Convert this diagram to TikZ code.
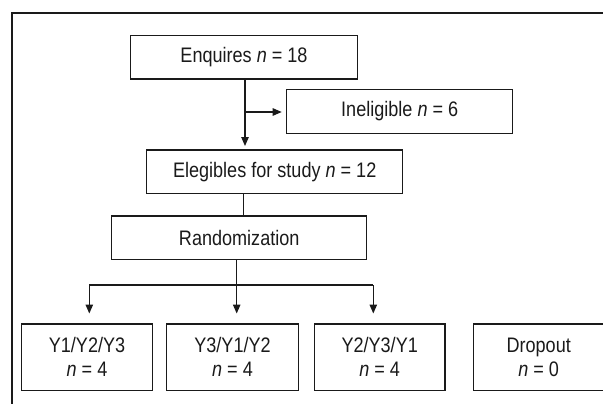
\documentclass[tikz,border=0pt]{standalone}
\usepackage{fontspec}
\setmainfont[FakeStretch=0.86]{Liberation Sans}
\usetikzlibrary{arrows.meta}
\definecolor{ink}{HTML}{1A1A1A}
\tikzset{
  box/.style={draw=ink, line width=1.2pt, minimum height=43.3pt, inner sep=0pt, text=ink,
    font=\fontsize{21}{24}\selectfont},
  lowbox/.style={box, minimum height=66.7pt, minimum width=130.7pt, align=center},
  conn/.style={draw=ink, line width=1.1pt},
  arr/.style={conn, -{Triangle[length=9pt,width=7.5pt]}},
  frameline/.style={draw=ink, line width=2.4pt}
}
\begin{document}
\begin{tikzpicture}[x=1pt,y=-1pt]
\useasboundingbox (0,0) rectangle (603,404);
\draw[frameline] (12.2,405) -- (12.2,13) -- (604,13);

\node[box, minimum width=226.6pt] (enq) at (244,57.3) {Enquires \textit{n} = 18};
\node[box, minimum width=226pt] (inel) at (399.7,111.5) {Ineligible \textit{n} = 6};
\node[box, minimum width=256pt] (eleg) at (274.7,171.7) {Elegibles for study \textit{n} = 12};
\node[box, minimum width=255pt] (rand) at (239.2,237.7) {Randomization};

\node[lowbox] (g1) at (87,357.3) {Y1/Y2/Y3\\\textit{n} = 4};
\node[lowbox, minimum width=131.6pt] (g2) at (232.5,357.3) {Y3/Y1/Y2\\\textit{n} = 4};
\node[lowbox] (g3) at (379.7,357.3) {Y2/Y3/Y1\\\textit{n} = 4};
\node[lowbox] (g4) at (538.7,357.3) {Dropout\\\textit{n} = 0};

% Enquires -> Elegibles with side branch to Ineligible
\coordinate (eA) at (245,79);
\coordinate (eB) at (245,146);
\coordinate (eC) at (245,112);
\coordinate (iL) at (281.7,112);
\draw[arr] (enq.south -| eA) -- (eB);
\draw[arr] (eC) -- (iL);

% Elegibles -> Randomization
\coordinate (rA) at (243.3,0);
\draw[conn] (eleg.south -| rA) -- (rand.north -| rA);

% Randomization -> groups
\coordinate (hL) at (89.3,285);
\coordinate (hM) at (236.7,285);
\coordinate (hR) at (373.3,285);
\coordinate (t1) at (89.3,313.5);
\coordinate (t2) at (236.7,313.5);
\coordinate (t3) at (373.3,313.5);
\draw[conn] (hL) -- (hR);
\draw[arr] (rand.south -| hM) -- (t2);
\draw[arr] (hL) -- (t1);
\draw[arr] (hR) -- (t3);
\end{tikzpicture}
\end{document}
